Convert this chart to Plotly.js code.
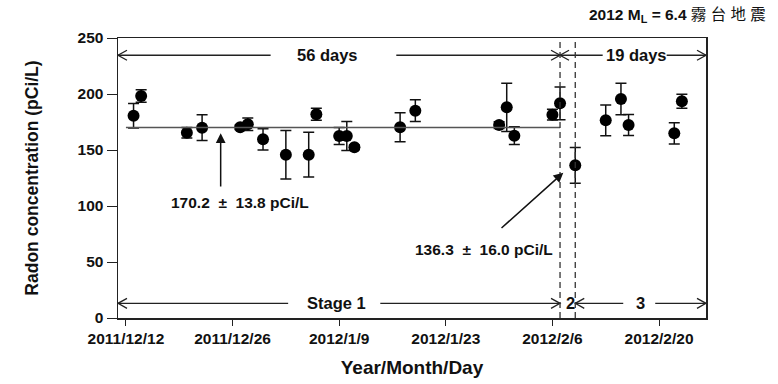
<!DOCTYPE html>
<html><head><meta charset="utf-8">
<script src="https://cdn.plot.ly/plotly-3.0.1.min.js"></script>
<style>body{margin:0;background:#fff}#chart{width:778px;height:384px}</style>
</head><body><div id="chart"></div>
<script>
// Sampling dates
const dates = ['2011-12-13','2011-12-14','2011-12-20','2011-12-22','2011-12-27','2011-12-28','2011-12-30',
  '2012-01-02','2012-01-05','2012-01-06','2012-01-09','2012-01-10','2012-01-11','2012-01-17','2012-01-19',
  '2012-01-30','2012-01-31','2012-02-01','2012-02-06','2012-02-07','2012-02-09',
  '2012-02-13','2012-02-15','2012-02-16','2012-02-22','2012-02-23'];
// Radon concentration (pCi/L)
const radon = [180.6,198.2,165.5,169.9,170.3,173.0,159.5,145.8,145.8,181.9,162.5,162.5,152.4,170.3,185.1,
  172.3,188.1,162.8,181.5,191.7,136.3,176.5,195.5,172.3,164.9,193.5];
// Error (± pCi/L)
const errs = [11.0,5.5,4.7,11.5,2.0,5.5,9.4,21.7,20.0,5.3,7.6,13.0,2.0,13.0,9.7,3.0,21.5,8.0,4.8,14.6,16.0,
  13.7,14.0,9.4,9.5,6.2];
// Stage-1 mean
const meanVal = 170.2;
const meanStart = '2011-12-12', meanEnd = '2012-02-07';
// Stage boundaries and earthquake
const stageBounds = ['2012-02-07','2012-02-09'];
const quakeDate = '2012-02-26 04:00';
const xRange = ['2011-12-10 23:00', quakeDate];
const yRange = [0, 250];
const tickVals = ['2011-12-12','2011-12-26','2012-01-09','2012-01-23','2012-02-06','2012-02-20'];
const tickText = ['2011/12/12','2011/12/26','2012/1/9','2012/1/23','2012/2/6','2012/2/20'];

const base = Date.UTC(2011,11,12);
function d(n){ const t = new Date(base + n*86400000); return t.toISOString().replace('T',' ').slice(0,16); }

const FONT = 'Arial, "Liberation Sans", sans-serif';
const shapes = [];
const annotations = [];
function seg(x0, x1, y){ shapes.push({type:'line', xref:'x', yref:'y', x0:x0, x1:x1, y0:y, y1:y, line:{color:'#222', width:1.3}}); }
function chev(x, y, dir){ // dir: 1 points right, -1 points left
  const s = -dir;
  shapes.push({type:'path', xref:'x', yref:'y', xsizemode:'pixel', ysizemode:'pixel', xanchor:x, yanchor:y,
    path:`M ${9*s} 5 L 0 0 L ${9*s} -5`, line:{color:'#222', width:1.3}});
}
// top arrows
const yTop = 234.6, yBot = 13.1;
seg(xRange[0], d(19.0), yTop); chev(xRange[0], yTop, -1);
seg(d(35.5), stageBounds[0], yTop); chev(stageBounds[0], yTop, 1);
seg(stageBounds[0], d(62.6), yTop); chev(stageBounds[0], yTop, -1);
seg(d(71.0), quakeDate, yTop); chev(quakeDate, yTop, 1);
// bottom arrows
seg(xRange[0], d(21.3), yBot); chev(xRange[0], yBot, -1);
seg(d(33.4), stageBounds[0], yBot); chev(stageBounds[0], yBot, 1);
seg(stageBounds[1], d(65.3), yBot); chev(stageBounds[1], yBot, -1);
seg(d(69.5), quakeDate, yBot); chev(quakeDate, yBot, 1);
// mean line
shapes.push({type:'line', xref:'x', yref:'y', x0:meanStart, x1:meanEnd, y0:meanVal, y1:meanVal, line:{color:'#555', width:1.5}});
// dashed stage bounds
stageBounds.forEach(b => shapes.push({type:'line', xref:'x', yref:'paper', x0:b, x1:b, y0:0, y1:1, line:{color:'#333', width:1.3, dash:'6px,4px'}}));

function txt(x, y, t, size){ annotations.push({x:x, y:y, xref:'x', yref:'y', text:t, showarrow:false, font:{family:FONT, size:size||16, color:'#111', weight:'bold'}}); }
txt(d(26.5), yTop, '56 days', 16.5);
txt(d(67.1), yTop, '19 days', 16.5);
txt(d(27.7), yBot, 'Stage 1', 16.5);
txt(d(58.4), yBot, '2', 16.5);
txt(d(67.5), yBot, '3', 16.5);
txt(d(15.0), 102.9, '170.2  ±  13.8 pCi/L', 15.5);
txt(d(47.0), 61.0, '136.3  ±  16.0 pCi/L', 15.5);
// pointing arrows
annotations.push({x:d(12.44), y:164.9, ax:d(12.44), ay:116.0, axref:'x', ayref:'y', xref:'x', yref:'y', text:'', showarrow:true, arrowhead:2, arrowsize:1.3, arrowwidth:1.5, arrowcolor:'#111', standoff:0});
annotations.push({x:d(57.43), y:129.7, ax:d(49.12), ay:79.2, axref:'x', ayref:'y', xref:'x', yref:'y', text:'', showarrow:true, arrowhead:2, arrowsize:1.3, arrowwidth:1.5, arrowcolor:'#111', standoff:0});
// earthquake label
annotations.push({xref:'paper', yref:'paper', x:1.105, y:1.04, xanchor:'right', yanchor:'bottom',
  text:'<b>2012 M<sub>L</sub> = 6.4</b> 霧 台 地 震', showarrow:false, font:{family:FONT + ', "Noto Sans CJK TC"', size:15.5, color:'#111'}});

const traces = [
  {x:dates, y:radon, type:'scatter', mode:'markers', marker:{color:'#000', size:12},
   error_y:{type:'data', array:errs, visible:true, color:'#111', thickness:1.5, width:5.5}, cliponaxis:false},
  {x:[quakeDate], y:[255.4], type:'scatter', mode:'markers', marker:{symbol:'triangle-down', color:'#000', size:10}, cliponaxis:false}
];

const layout = {
  width:778, height:384, showlegend:false,
  margin:{l:118, r:72, t:38, b:66},
  paper_bgcolor:'#fff', plot_bgcolor:'#fff',
  font:{family:FONT, color:'#111'},
  xaxis:{type:'date', range:xRange, tickvals:tickVals, ticktext:tickText, showgrid:false, zeroline:false,
    showline:true, mirror:true, linecolor:'#222', linewidth:1.5, ticks:'outside', ticklen:6, tickcolor:'#222',
    tickfont:{family:FONT, size:15.5, weight:'bold', color:'#111'},
    title:{text:'Year/Month/Day', font:{family:FONT, size:19, weight:'bold', color:'#111'}, standoff:14}},
  yaxis:{range:yRange, tickvals:[0,50,100,150,200,250], showgrid:false, zeroline:false,
    showline:true, mirror:true, linecolor:'#222', linewidth:1.5, ticks:'outside', ticklen:10, tickcolor:'#222',
    tickfont:{family:FONT, size:15.5, weight:'bold', color:'#111'},
    title:{text:'Radon concentration (pCi/L)', font:{family:FONT, size:17.5, weight:'bold', color:'#111'}, standoff:34}},
  shapes:shapes, annotations:annotations
};
Plotly.newPlot('chart', traces, layout, {displayModeBar:false, staticPlot:true});
</script></body></html>
